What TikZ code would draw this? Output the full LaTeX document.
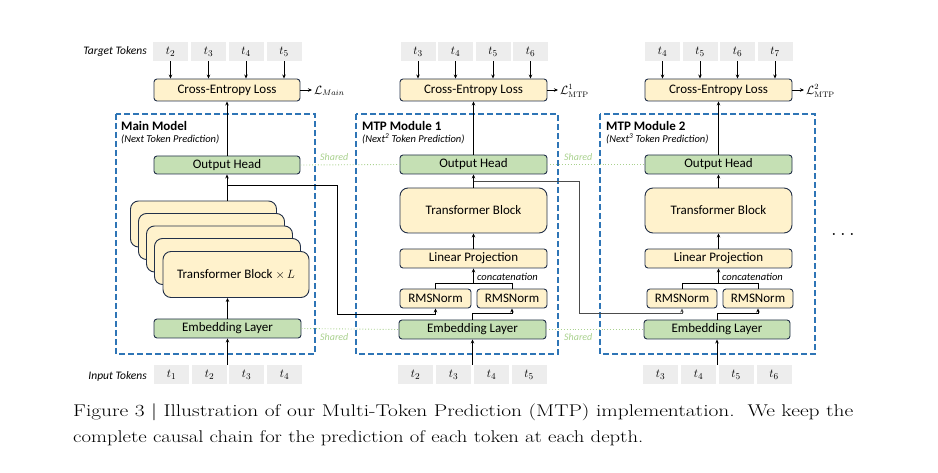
\documentclass[tikz,border=0pt]{standalone}
\usepackage{fontspec}
\setsansfont{Carlito}
\usetikzlibrary{arrows.meta}
\definecolor{yfill}{HTML}{FFF2CC}
\definecolor{gfill}{HTML}{C5E0B4}
\definecolor{bdr}{HTML}{223049}
\definecolor{tokfill}{HTML}{EDEDED}
\definecolor{dashblue}{HTML}{2E75B6}
\definecolor{sharedgreen}{HTML}{A9D18E}
\begin{document}
\begin{tikzpicture}[x=1pt,y=-1pt,
  font=\sffamily\fontsize{13}{15}\selectfont,
  ybox/.style={draw=bdr, fill=yfill, line width=0.9pt, rounded corners=3pt, inner sep=0pt},
  gbox/.style={draw=bdr, fill=gfill, line width=0.9pt, rounded corners=3pt, inner sep=0pt},
  bigbox/.style={ybox, rounded corners=8pt, minimum width=147, minimum height=45},
  tok/.style={fill=tokfill, minimum width=35, minimum height=19, inner sep=0pt},
  modbox/.style={draw=dashblue, line width=1.4pt, dash pattern=on 6pt off 3pt},
  conn/.style={draw=black, line width=0.8pt},
  arr/.style={conn, -{Stealth[length=4pt,width=3.5pt]}},
  sharedline/.style={draw=sharedgreen, line width=0.9pt, dotted},
  sharedtxt/.style={text=sharedgreen, font=\sffamily\itshape\fontsize{10}{12}\selectfont, inner sep=0pt},
  lbl/.style={font=\sffamily\itshape\fontsize{11.5}{13}\selectfont, inner sep=0pt},
  title/.style={font=\sffamily\bfseries\fontsize{13}{15}\selectfont, inner sep=0pt, anchor=west},
  sub/.style={font=\sffamily\itshape\fontsize{10.5}{12}\selectfont, inner sep=0pt, anchor=west},
  mathlbl/.style={font=\fontsize{12}{14}\selectfont, inner sep=0pt, anchor=west},
  capline/.style={font=\rmfamily\fontsize{17}{20}\selectfont, inner sep=0pt, anchor=base west}
]
\useasboundingbox (0,0) rectangle (938,473);

% module frames
\draw[modbox] (116,114) rectangle (315,354);
\draw[modbox] (356,114) rectangle (558,354);
\draw[modbox] (600,114) rectangle (815,354);

\node[title] (tm0) at (121,126) {Main Model};
\node[sub] (sm0) at (121,139) {(Next Token Prediction)};
\node[title] (tm1) at (362,126) {MTP Module 1};
\node[sub] (sm1) at (362,139) {(Next\textsuperscript{2} Token Prediction)};
\node[title] (tm2) at (606,126) {MTP Module 2};
\node[sub] (sm2) at (606,139) {(Next\textsuperscript{3} Token Prediction)};

% token rows
\node[lbl, anchor=east] (tt) at (147,51) {Target Tokens};
\node[lbl, anchor=east] (it) at (147,376) {Input Tokens};

\node[tok] (a2) at (170.5,51.5) {$t_2$};
\node[tok] (a3) at (208.5,51.5) {$t_3$};
\node[tok] (a4) at (246,51.5) {$t_4$};
\node[tok] (a5) at (284,51.5) {$t_5$};
\node[tok] (b3) at (418,51.5) {$t_3$};
\node[tok] (b4) at (455.5,51.5) {$t_4$};
\node[tok] (b5) at (493,51.5) {$t_5$};
\node[tok] (b6) at (530.5,51.5) {$t_6$};
\node[tok] (c4) at (662.5,51.5) {$t_4$};
\node[tok] (c5) at (700,51.5) {$t_5$};
\node[tok] (c6) at (737.5,51.5) {$t_6$};
\node[tok] (c7) at (775,51.5) {$t_7$};

\node[tok] (i1) at (171.5,374.5) {$t_1$};
\node[tok] (i2) at (209.5,374.5) {$t_2$};
\node[tok] (i3) at (246.5,374.5) {$t_3$};
\node[tok] (i4) at (284.5,374.5) {$t_4$};
\node[tok] (j2) at (415.5,374.5) {$t_2$};
\node[tok] (j3) at (453.5,374.5) {$t_3$};
\node[tok] (j4) at (491.5,374.5) {$t_4$};
\node[tok] (j5) at (529,374.5) {$t_5$};
\node[tok] (k3) at (660.5,374.5) {$t_3$};
\node[tok] (k4) at (698.5,374.5) {$t_4$};
\node[tok] (k5) at (736,374.5) {$t_5$};
\node[tok] (k6) at (774,374.5) {$t_6$};

% loss boxes
\node[ybox, minimum width=146, minimum height=22] (ce0) at (227,90) {Cross-Entropy Loss};
\node[ybox, minimum width=147, minimum height=22] (ce1) at (473.5,90) {Cross-Entropy Loss};
\node[ybox, minimum width=147, minimum height=22] (ce2) at (718.5,90) {Cross-Entropy Loss};

\foreach \t/\c in {a2/ce0,a3/ce0,a4/ce0,a5/ce0,b3/ce1,b4/ce1,b5/ce1,b6/ce1,c4/ce2,c5/ce2,c6/ce2,c7/ce2}
  \draw[arr] (\t.south) -- (\t.south |- \c.north);

\coordinate (le0) at (312,90);
\coordinate (le1) at (558,90);
\coordinate (le2) at (804,90);
\draw[arr] (ce0.east) -- (le0);
\draw[arr] (ce1.east) -- (le1);
\draw[arr] (ce2.east) -- (le2);
\node[mathlbl] (L0) at (314,91) {$\mathcal{L}_{Main}$};
\node[mathlbl] (L1) at (560,91) {$\mathcal{L}^{1}_{\mathrm{MTP}}$};
\node[mathlbl] (L2) at (806,91) {$\mathcal{L}^{2}_{\mathrm{MTP}}$};

% main model
\node[gbox, minimum width=146, minimum height=18] (oh0) at (227,165) {Output Head};
\node[gbox, minimum width=147, minimum height=19] (emb0) at (227.5,328.5) {Embedding Layer};
\node[bigbox, minimum width=146, minimum height=46] (s1) at (203.5,224) {};
\node[bigbox, minimum width=146, minimum height=46] (s2) at (211.5,236.5) {};
\node[bigbox, minimum width=146, minimum height=46] (s3) at (219.5,249) {};
\node[bigbox, minimum width=146, minimum height=46] (s4) at (227.5,261.5) {};
\node[bigbox, minimum width=146, minimum height=46] (s5) at (236,274.5) {Transformer Block $\times\, L$};

\coordinate (in0) at (227.5,365);
\draw[arr] (in0) -- (emb0.south);
\draw[arr] (emb0.north) -- (emb0.north |- s5.south);
\draw[arr] (s1.north -| oh0.south) -- (oh0.south);
\draw[arr] (oh0.north) -- (ce0.south);

% MTP 1
\node[gbox, minimum width=147, minimum height=19] (oh1) at (473.5,164.5) {Output Head};
\node[bigbox] (tb1) at (473.5,210.5) {Transformer Block};
\node[ybox, minimum width=147, minimum height=19] (lp1) at (473.5,258.5) {Linear Projection};
\node[ybox, minimum width=71, minimum height=19] (rl1) at (435.5,298.5) {RMSNorm};
\node[ybox, minimum width=70, minimum height=19] (rr1) at (512,298.5) {RMSNorm};
\node[gbox, minimum width=147, minimum height=19] (emb1) at (472.5,329.5) {Embedding Layer};

\coordinate (in1) at (472.5,365);
\draw[arr] (in1) -- (emb1.south);
\draw[arr] (emb1.north) -- ++(0,-6) -| (rr1.south);
\draw[conn] (rl1.north) -- ++(0,-5) -| (rr1.north);
\coordinate (cc1) at (473.5,284);
\draw[arr] (cc1) -- (lp1.south);
\node[sub] (cat1) at (477,277) {concatenation};
\draw[arr] (lp1.north) -- (tb1.south);
\draw[arr] (tb1.north) -- (oh1.south);
\draw[arr] (oh1.north) -- (ce1.south);

% MTP 2
\node[gbox, minimum width=147, minimum height=19] (oh2) at (718.5,164.5) {Output Head};
\node[bigbox] (tb2) at (718.5,210.5) {Transformer Block};
\node[ybox, minimum width=147, minimum height=19] (lp2) at (718.5,258.5) {Linear Projection};
\node[ybox, minimum width=70, minimum height=19] (rl2) at (682,298.5) {RMSNorm};
\node[ybox, minimum width=70, minimum height=19] (rr2) at (758,298.5) {RMSNorm};
\node[gbox, minimum width=146, minimum height=19] (emb2) at (717,329.5) {Embedding Layer};

\coordinate (in2) at (717,365);
\draw[arr] (in2) -- (emb2.south);
\draw[arr] (emb2.north) -- ++(0,-6) -| (rr2.south);
\draw[conn] (rl2.north) -- ++(0,-5) -| (rr2.north);
\coordinate (cc2) at (718.5,284);
\draw[arr] (cc2) -- (lp2.south);
\node[sub] (cat2) at (722,277) {concatenation};
\draw[arr] (lp2.north) -- (tb2.south);
\draw[arr] (tb2.north) -- (oh2.south);
\draw[arr] (oh2.north) -- (ce2.south);

% cross-module connections
\coordinate (h0) at (227,185);
\draw[arr] (h0) -- (337,185) -- (337,314) -| (rl1.south);
\coordinate (h1) at (473.5,181);
\draw[arr, draw=black!70] (h1) -- (579,181) -- (579,313) -| (rl2.south);

% shared
\draw[sharedline] (oh0.east) -- (oh1.west);
\draw[sharedline] (oh1.east) -- (oh2.west);
\draw[sharedline] (emb0.east) -- (emb1.west);
\draw[sharedline] (emb1.east) -- (emb2.west);
\node[sharedtxt, anchor=west] (sh1) at (320,157) {Shared};
\node[sharedtxt, anchor=west] (sh2) at (320,337) {Shared};
\node[sharedtxt, anchor=west] (sh3) at (564,157) {Shared};
\node[sharedtxt, anchor=west] (sh4) at (564,337) {Shared};

\node[font=\fontsize{20}{22}\selectfont, inner sep=0pt] (dots) at (843,234) {$\dots$};

% caption
\node[capline] (cap1) at (73,416) {\resizebox{780pt}{\height}{Figure 3 | Illustration of our Multi-Token Prediction (MTP) implementation.\ \ We keep the}};
\node[capline] (cap2) at (73,442) {\resizebox{570pt}{\height}{complete causal chain for the prediction of each token at each depth.}};
\end{tikzpicture}
\end{document}
